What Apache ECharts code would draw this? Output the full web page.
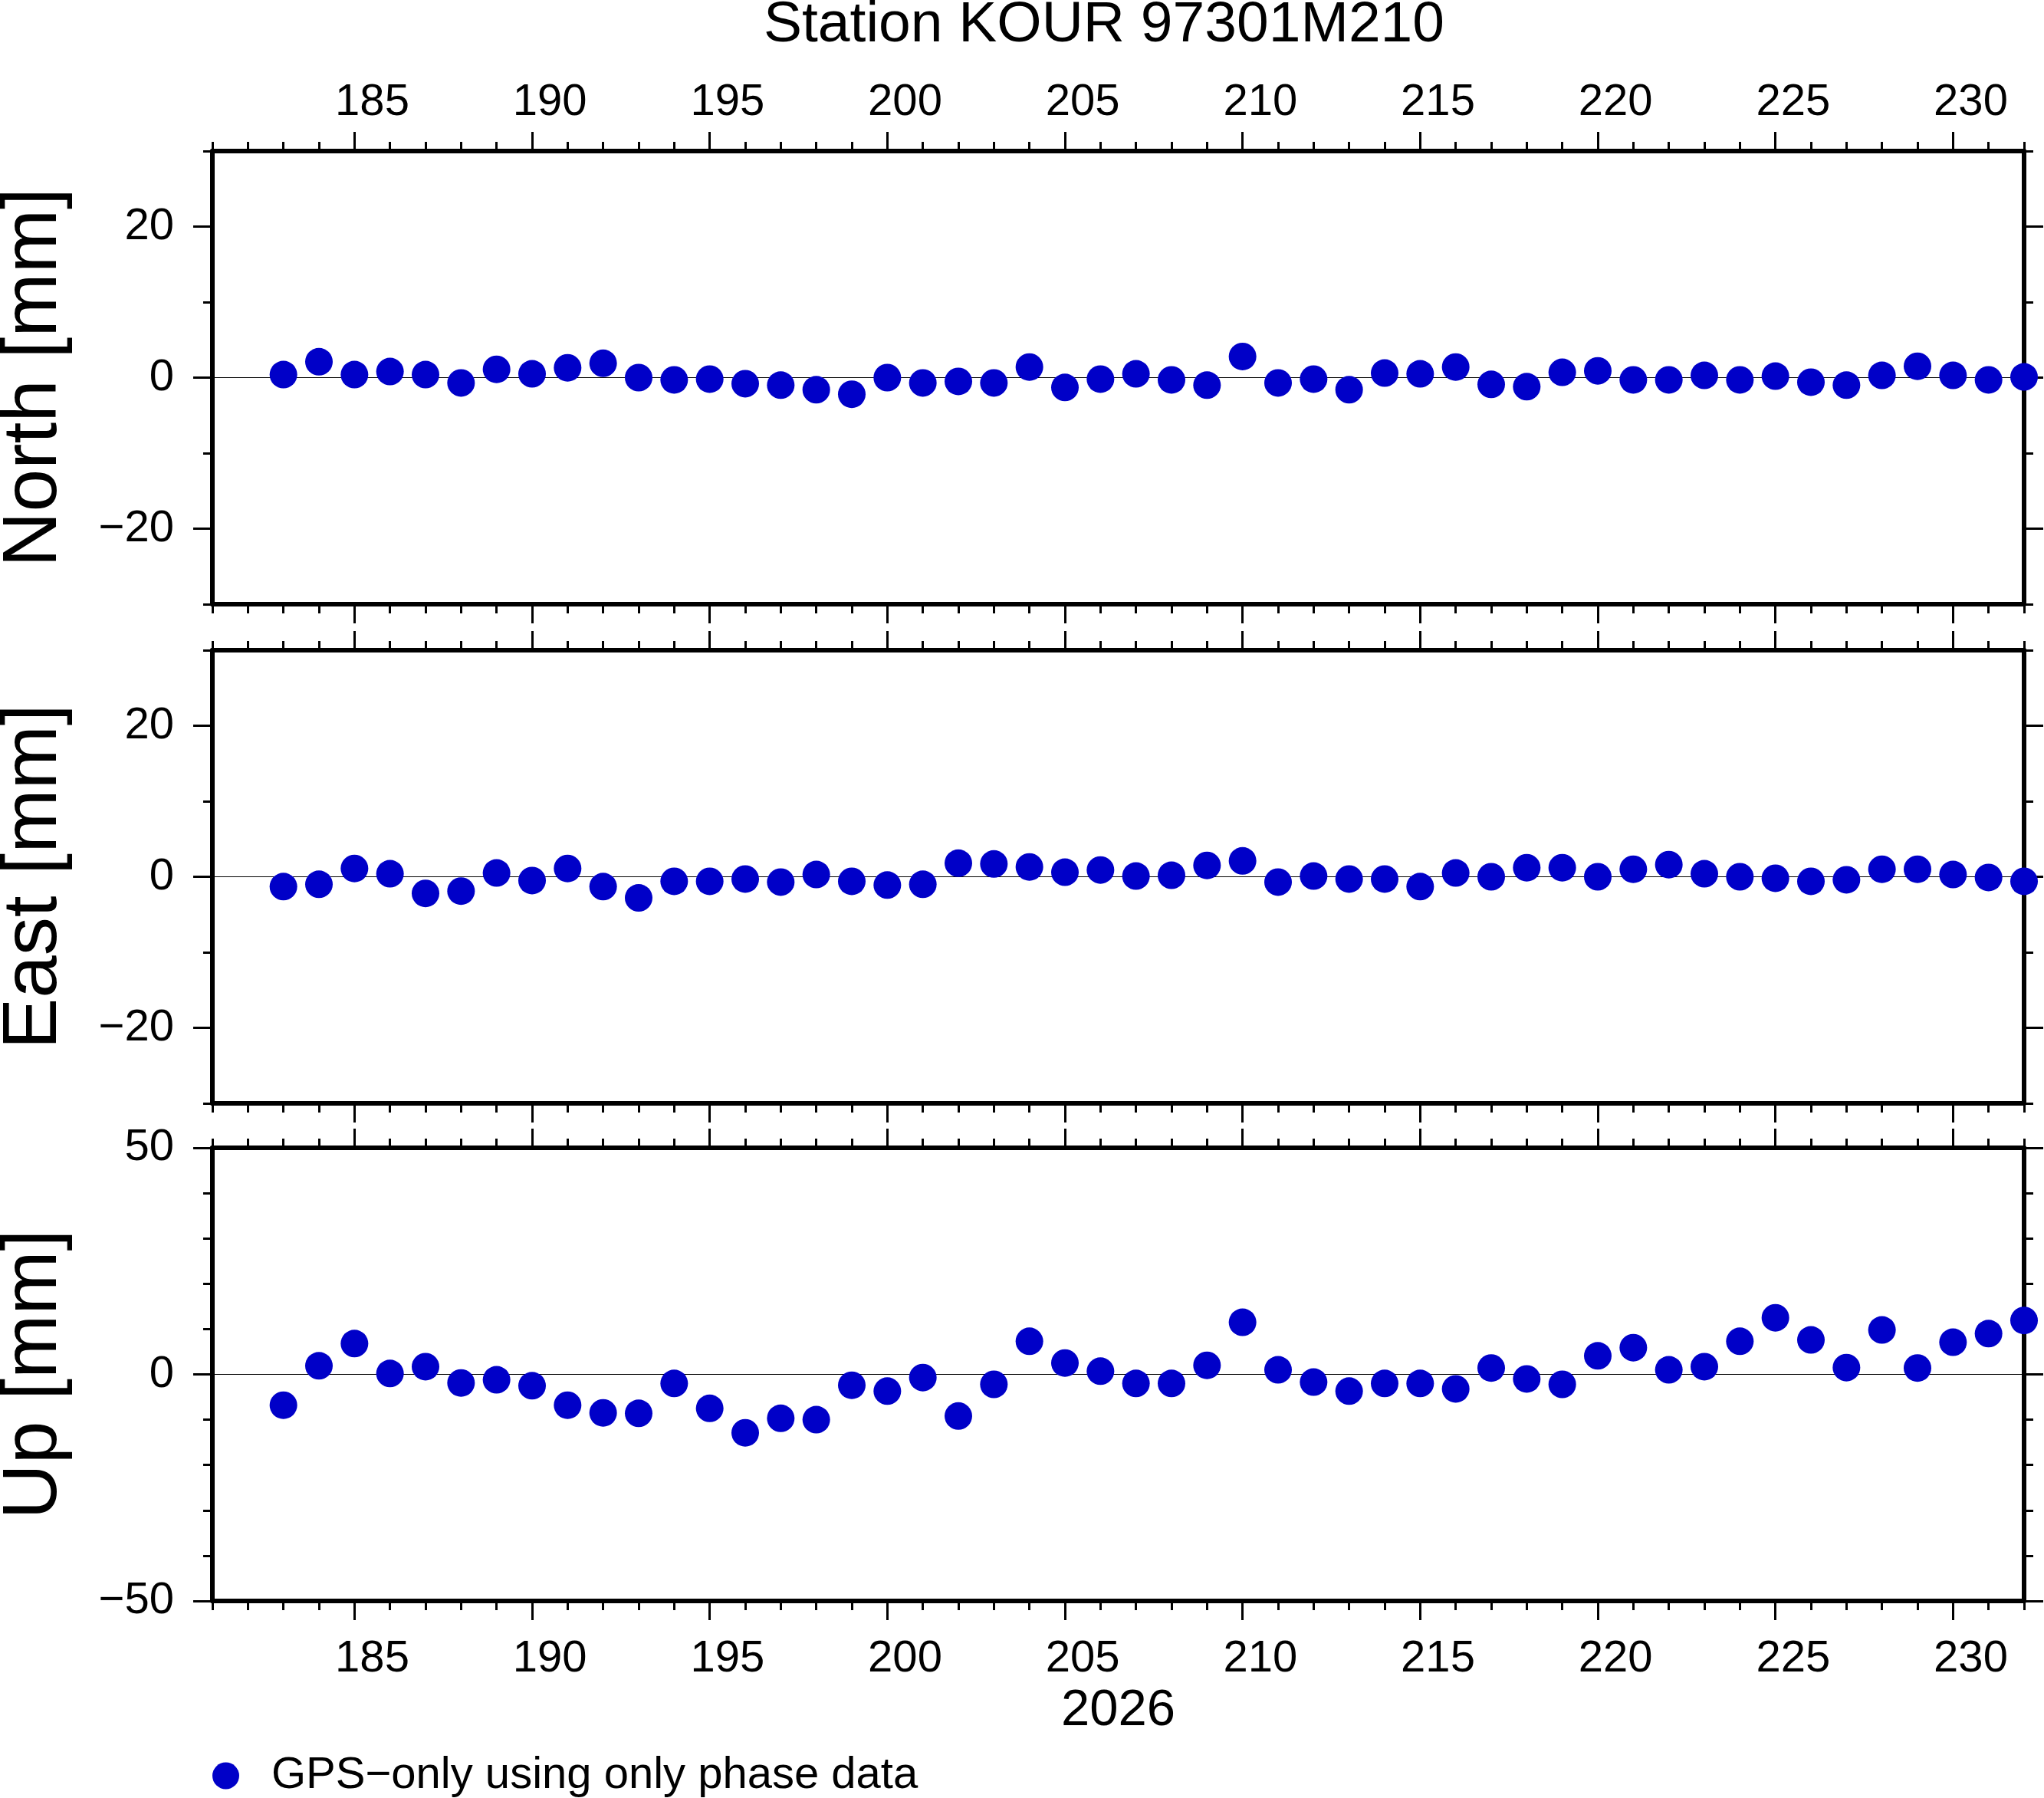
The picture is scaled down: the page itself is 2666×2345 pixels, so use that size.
<!DOCTYPE html>
<html>
<head>
<meta charset="utf-8">
<title>Station KOUR 97301M210</title>
<script src="https://cdn.jsdelivr.net/npm/echarts@6/dist/echarts.min.js"></script>
<style>
  html, body { margin: 0; padding: 0; background: #fff; }
  #chart { width: 2666px; height: 2345px; }
</style>
</head>
<body>
<div id="chart"></div>
<script>
// day of year 2026
const days = [183, 184, 185, 186, 187, 188, 189, 190, 191, 192,
              193, 194, 195, 196, 197, 198, 199, 200, 201, 202,
              203, 204, 205, 206, 207, 208, 209, 210, 211, 212,
              213, 214, 215, 216, 217, 218, 219, 220, 221, 222,
              223, 224, 225, 226, 227, 228, 229, 230, 231, 232];

// residuals in mm
const north = [0.4, 2.1, 0.4, 0.8, 0.4, -0.7, 1.1, 0.5, 1.3, 1.9,
               0.0, -0.3, -0.2, -0.8, -1.0, -1.6, -2.2, 0.0, -0.7, -0.5,
               -0.7, 1.4, -1.3, -0.2, 0.5, -0.3, -1.0, 2.8, -0.7, -0.2,
               -1.6, 0.6, 0.5, 1.4, -0.9, -1.2, 0.7, 0.9, -0.3, -0.3,
               0.3, -0.3, 0.2, -0.6, -1.0, 0.3, 1.5, 0.3, -0.3, 0.1];

const east = [-1.3, -1.0, 1.1, 0.4, -2.2, -1.9, 0.5, -0.5, 1.1, -1.3,
              -2.8, -0.6, -0.6, -0.3, -0.7, 0.3, -0.6, -1.1, -1.0, 1.8,
              1.7, 1.3, 0.6, 0.9, 0.1, 0.2, 1.5, 2.1, -0.7, 0.1,
              -0.3, -0.3, -1.3, 0.5, 0.0, 1.2, 1.2, 0.0, 1.0, 1.6,
              0.4, 0.0, -0.2, -0.6, -0.4, 1.0, 1.0, 0.3, -0.1, -0.6];

const up = [-6.8, 1.9, 6.8, 0.2, 1.7, -1.9, -1.2, -2.5, -6.8, -8.5,
            -8.6, -2.0, -7.5, -12.9, -9.7, -10.0, -2.4, -3.7, -0.7, -9.2,
            -2.2, 7.3, 2.5, 0.7, -2.0, -2.0, 2.0, 11.5, 1.0, -1.7,
            -3.7, -2.0, -2.0, -3.2, 1.4, -1.0, -2.2, 4.1, 5.9, 1.0,
            1.7, 7.3, 12.5, 7.6, 1.5, 9.8, 1.4, 7.1, 9.0, 11.9];

const dayTicks = [185, 190, 195, 200, 205, 210, 215, 220, 225, 230];
const nePanelTicks = [-20, 0, 20];
const upPanelTicks = [-50, 0, 50];

const legendName = 'GPS\u2212only using only phase data';
const font = '"Liberation Sans", Arial, Helvetica, sans-serif';

const panels = [
    { name: 'North [mm]', values: north, min: -30, max: 30, ticks: nePanelTicks },
    { name: 'East [mm]', values: east, min: -30, max: 30, ticks: nePanelTicks },
    { name: 'Up [mm]', values: up, min: -50, max: 50, ticks: upPanelTicks }
];
const gridTops = [197, 848, 1497];

const minus = v => String(v).replace('-', '\u2212');

var chartDom = document.getElementById('chart');
var myChart = echarts.init(chartDom);

var grids = [], xAxes = [], yAxes = [], series = [];

panels.forEach(function (p, g) {
    grids.push({ left: 277, right: 26, top: gridTops[g], height: 591, outerBoundsMode: 'none', containLabel: false });

    // x axes: day minor ticks + 5-day major ticks, top and bottom
    var xMain = -1;
    ['bottom', 'top'].forEach(function (pos) {
        var labels = (pos === 'top' && g === 0) || (pos === 'bottom' && g === 2);
        xAxes.push({
            type: 'value', gridIndex: g, position: pos, min: 181, max: 232, interval: 1,
            axisLine: { show: false, onZero: false },
            axisTick: { show: true, length: 12, lineStyle: { color: '#000', width: 3 } },
            axisLabel: { show: false },
            splitLine: { show: false }
        });
        var ax = {
            type: 'value', gridIndex: g, position: pos, min: 181, max: 232,
            axisLine: { show: true, onZero: false, lineStyle: { color: '#000', width: 6 } },
            axisTick: { show: true, length: 25, customValues: dayTicks, lineStyle: { color: '#000', width: 3 } },
            axisLabel: {
                show: labels,
                customValues: dayTicks.map(d => d + 0.5),
                formatter: v => String(Math.floor(v)),
                margin: pos === 'top' ? 34 : 47,
                fontSize: 58, color: '#000', fontFamily: font
            },
            splitLine: { show: false }
        };
        if (pos === 'bottom' && g === 2) {
            ax.name = '2026';
            ax.nameLocation = 'middle';
            ax.nameGap = 110;
            ax.nameTextStyle = { fontSize: 67, color: '#000', fontFamily: font };
        }
        if (pos === 'bottom') xMain = xAxes.length;
        xAxes.push(ax);
    });

    // y axes: minor ticks every 10, labelled major ticks, left and right
    var yMain = -1;
    ['left', 'right'].forEach(function (pos) {
        yAxes.push({
            type: 'value', gridIndex: g, position: pos, min: p.min, max: p.max, interval: 10,
            axisLine: { show: false, onZero: false },
            axisTick: { show: true, length: 12, lineStyle: { color: '#000', width: 3 } },
            axisLabel: { show: false },
            splitLine: { show: false }
        });
        var ay = {
            type: 'value', gridIndex: g, position: pos, min: p.min, max: p.max,
            axisLine: { show: true, onZero: false, lineStyle: { color: '#000', width: 6 } },
            axisTick: { show: true, length: 25, customValues: p.ticks, lineStyle: { color: '#000', width: 3 } },
            axisLabel: {
                show: pos === 'left',
                customValues: p.ticks,
                formatter: minus,
                padding: [14, 0, 0, 0],
                margin: 50, fontSize: 58, color: '#000', fontFamily: font
            },
            splitLine: { show: false }
        };
        if (pos === 'left') {
            ay.name = p.name;
            ay.nameLocation = 'middle';
            ay.nameRotate = 90;
            ay.nameGap = 182;
            ay.nameTextStyle = { fontSize: 100, color: '#000', fontFamily: font };
            yMain = yAxes.length;
        }
        yAxes.push(ay);
    });

    series.push({
        type: 'scatter',
        name: legendName,
        xAxisIndex: xMain,
        yAxisIndex: yMain,
        data: days.map((d, i) => [d, p.values[i]]),
        symbol: 'circle',
        symbolSize: 36,
        itemStyle: { color: '#0000c8', opacity: 1 },
        z: 3,
        silent: true,
        markLine: {
            silent: true,
            symbol: 'none',
            z: 1,
            label: { show: false },
            lineStyle: { color: '#000', width: 1.2, type: 'solid', opacity: 1 },
            data: [{ yAxis: 0 }]
        }
    });
});

var option = {
    animation: false,
    backgroundColor: '#fff',
    title: {
        text: 'Station KOUR 97301M210',
        left: 1440,
        top: -4,
        padding: 0,
        textAlign: 'center',
        textStyle: { fontSize: 75, fontWeight: 'normal', color: '#000', fontFamily: font }
    },
    legend: {
        data: [{ name: legendName, icon: 'circle', itemStyle: { opacity: 1 } }],
        left: 277,
        top: 2287,
        padding: 0,
        itemWidth: 35,
        itemHeight: 35,
        textStyle: { fontSize: 58, color: '#000', fontFamily: font, padding: [0, 0, 0, 37] }
    },
    grid: grids,
    xAxis: xAxes,
    yAxis: yAxes,
    series: series
};

option && myChart.setOption(option);
</script>
</body>
</html>
